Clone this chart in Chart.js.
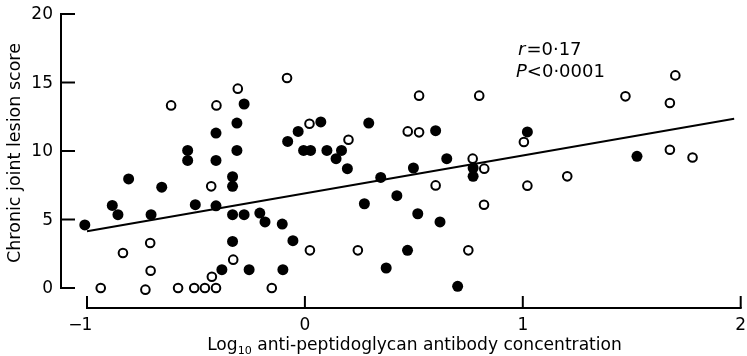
<!DOCTYPE html>
<html>
<head>
<meta charset="utf-8">
<script src="https://cdn.jsdelivr.net/npm/chart.js@4/dist/chart.umd.min.js"></script>
<style>
html,body{margin:0;padding:0;background:#fff;}
#wrap{width:747px;height:356px;position:relative;}
</style>
</head>
<body>
<div id="wrap"><canvas id="c" width="747" height="356"></canvas></div>
<script>
// Filled circles
const filledX = [-1.01,-0.884,-0.858,-0.809,-0.706,-0.657,-0.503,-0.408,-0.538,-0.538,-0.408,-0.408,-0.312,-0.312,-0.279,-0.332,-0.332,-0.332,-0.279,-0.332,-0.381,-0.256,-0.207,-0.183,-0.104,-0.055,-0.101,-0.079,-0.031,0.073,-0.006,0.026,0.101,0.168,0.143,0.195,0.293,0.600,0.348,0.498,0.651,0.772,0.772,0.273,0.422,0.518,0.620,0.471,0.373,0.701,1.021,1.524];
const filledY = [4.6,6.03,5.35,7.96,5.35,7.36,6.08,6.0,10.04,9.31,11.31,9.31,12.04,10.04,13.43,8.12,7.42,5.35,5.35,3.40,1.34,1.34,5.47,4.82,4.67,3.45,1.34,10.70,11.43,12.12,10.04,10.04,10.04,10.04,9.44,8.71,12.04,11.48,8.07,8.76,9.44,8.76,8.15,6.15,6.74,5.42,4.82,2.75,1.46,0.12,11.39,9.61];
// Open circles
const openX = [-0.614,-0.406,-0.308,-0.082,0.021,0.200,-0.43,-0.329,0.023,0.243,-0.152,-0.408,-0.427,-0.710,-0.835,-0.708,-0.937,-0.732,-0.582,-0.508,-0.459,0.524,0.800,0.472,0.524,0.770,0.823,0.600,0.822,0.750,1.005,1.471,1.700,1.675,1.675,1.779,1.204,1.021];
const openY = [13.33,13.33,14.55,15.33,11.99,10.82,7.42,2.07,2.75,2.75,0,0,0.82,3.28,2.55,1.26,0,-0.12,0,0,0,14.04,14.04,11.43,11.36,9.44,8.71,7.49,6.08,2.75,10.66,13.99,15.52,13.50,10.09,9.53,8.15,7.47];
// Regression line
const lineX = [-1.0, 1.97];
const lineY = [4.15, 12.36];
// Tick values
const xTicks = [-1, 0, 1, 2];
const yTicks = [0, 5, 10, 15, 20];
const xTitleMain = "Log";
const xTitleSub = "10";
const xTitleRest = " anti-peptidoglycan antibody concentration";
const yTitle = "Chronic joint lesion score";
const statR = "=0\u00B717";
const statP = "<0\u00B70001";

const zip = (xs, ys) => xs.map((x, i) => ({x: x, y: ys[i]}));
const FONT = "'DejaVu Sans', 'Liberation Sans', sans-serif";

const axesPlugin = {
  id: 'axesPlugin',
  afterDraw(chart) {
    const ctx = chart.ctx;
    const xs = chart.scales.x, ys = chart.scales.y;
    ctx.save();
    ctx.strokeStyle = '#000';
    ctx.fillStyle = '#000';
    ctx.lineWidth = 2;
    ctx.lineCap = 'butt';
    // y axis (offset left)
    const yAxisX = xs.getPixelForValue(xTicks[0]) - 26;
    const yTop = ys.getPixelForValue(yTicks[yTicks.length-1]);
    const yBot = ys.getPixelForValue(yTicks[0]);
    ctx.beginPath();
    ctx.moveTo(yAxisX, yTop - 1);
    ctx.lineTo(yAxisX, yBot + 1);
    ctx.stroke();
    ctx.font = "17px " + FONT;
    ctx.textAlign = 'right';
    ctx.textBaseline = 'middle';
    yTicks.forEach(v => {
      const p = ys.getPixelForValue(v);
      ctx.beginPath();
      ctx.moveTo(yAxisX, p);
      ctx.lineTo(yAxisX + 14, p);
      ctx.stroke();
      ctx.fillText(String(v), yAxisX - 8, p + 1);
    });
    // x axis (offset down)
    const xAxisY = ys.getPixelForValue(0) + 20;
    const xL = xs.getPixelForValue(xTicks[0]);
    const xR = xs.getPixelForValue(xTicks[xTicks.length-1]);
    ctx.beginPath();
    ctx.moveTo(xL - 1, xAxisY);
    ctx.lineTo(xR + 1, xAxisY);
    ctx.stroke();
    ctx.textBaseline = 'alphabetic';
    xTicks.forEach(v => {
      const p = xs.getPixelForValue(v);
      ctx.beginPath();
      ctx.moveTo(p, xAxisY);
      ctx.lineTo(p, xAxisY - 12);
      ctx.stroke();
      const s = String(Math.abs(v));
      ctx.textAlign = 'center';
      ctx.fillText(s, p, xAxisY + 22);
      if (v < 0) {
        const w = ctx.measureText(s).width;
        ctx.textAlign = 'right';
        ctx.fillText('\u2212', p - w / 2 + 1, xAxisY + 22);
      }
    });
    // helper to fit font size to width
    const fit = (parts, target, base) => {
      let total = 0;
      parts.forEach(([t, scale]) => { ctx.font = (base * scale) + "px " + FONT; total += ctx.measureText(t).width; });
      return base * target / total;
    };
    // x title with subscript
    ctx.textAlign = 'left';
    const fs = fit([[xTitleMain, 1], [xTitleSub, 0.65], [xTitleRest, 1]], 415, 17);
    const f1 = fs + "px " + FONT, f2 = (fs * 0.65) + "px " + FONT;
    ctx.font = f1; const w1 = ctx.measureText(xTitleMain).width;
    ctx.font = f2; const w2 = ctx.measureText(xTitleSub).width;
    ctx.font = f1; const w3 = ctx.measureText(xTitleRest).width;
    let sx = 414.5 - (w1 + w2 + w3) / 2;
    const by = 350;
    ctx.font = f1; ctx.fillText(xTitleMain, sx, by); sx += w1;
    ctx.font = f2; ctx.fillText(xTitleSub, sx, by + 4); sx += w2;
    ctx.font = f1; ctx.fillText(xTitleRest, sx, by);
    // y title rotated
    ctx.save();
    ctx.translate(20, 153);
    ctx.rotate(-Math.PI / 2);
    ctx.textAlign = 'center';
    const fy = fit([[yTitle, 1]], 220, 17);
    ctx.font = fy + "px " + FONT;
    ctx.fillText(yTitle, 0, 0);
    ctx.restore();
    // statistics annotation
    ctx.textAlign = 'left';
    ctx.font = "italic 18px " + FONT;
    ctx.fillText("r", 518, 55);
    let wr = ctx.measureText("r").width;
    ctx.font = "18px " + FONT;
    ctx.fillText(statR, 518 + wr + 1, 55);
    ctx.font = "italic 18px " + FONT;
    ctx.fillText("P", 516, 77);
    let wp = ctx.measureText("P").width;
    ctx.font = "18px " + FONT;
    ctx.fillText(statP, 516 + wp, 77);
    ctx.restore();
  }
};

new Chart(document.getElementById('c'), {
  data: {
    datasets: [
      {type: 'scatter', data: zip(filledX, filledY), pointRadius: 5.5, pointBackgroundColor: '#000', pointBorderWidth: 0, pointBorderColor: '#000', clip: false},
      {type: 'scatter', data: zip(openX, openY), pointRadius: 4.3, pointBackgroundColor: '#fff', pointBorderColor: '#000', pointBorderWidth: 2, clip: false},
      {type: 'line', data: zip(lineX, lineY), borderColor: '#000', borderWidth: 2, pointRadius: 0, fill: false, clip: false}
    ]
  },
  options: {
    responsive: false,
    animation: false,
    layout: {padding: {left: 0, right: 4, top: 14, bottom: 0}},
    plugins: {legend: {display: false}, tooltip: {enabled: false}},
    scales: {
      x: {
        type: 'linear', min: -1, max: 2,
        grid: {display: false, drawTicks: false},
        border: {display: false},
        ticks: {display: false},
        afterFit: s => { s.height = 68; }
      },
      y: {
        type: 'linear', min: 0, max: 20,
        grid: {display: false, drawTicks: false},
        border: {display: false},
        ticks: {display: false},
        afterFit: s => { s.width = 87; }
      }
    }
  },
  plugins: [axesPlugin]
});
</script>
</body>
</html>
